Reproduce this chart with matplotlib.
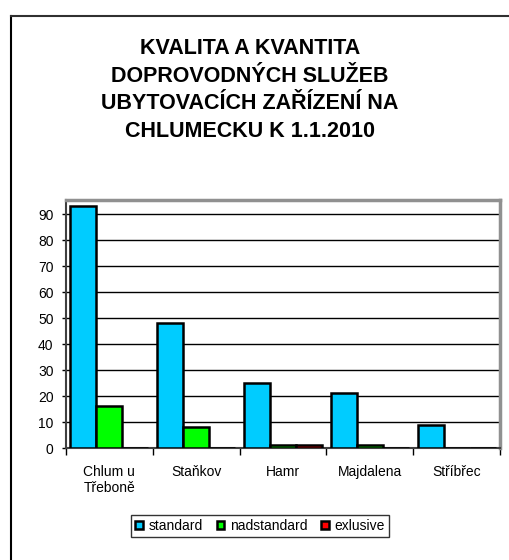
import numpy as np
import matplotlib.pyplot as plt
from matplotlib.lines import Line2D

plt.rcParams['font.family'] = ['Liberation Sans', 'DejaVu Sans']

# data
CATEGORIES = ['Chlum u\nTřeboně', 'Staňkov', 'Hamr', 'Majdalena', 'Stříbřec']
STANDARD = [93, 48, 25, 21, 9]
NADSTANDARD = [16, 8, 1, 1, 0]
EXLUSIVE = [0, 0, 1, 0, 0]

SERIES = ['standard', 'nadstandard', 'exlusive']
COLORS = ['#00CCFF', '#00FF00', '#FF0000']

TITLE = 'KVALITA A KVANTITA\nDOPROVODNÝCH SLUŽEB\nUBYTOVACÍCH ZAŘÍZENÍ NA\nCHLUMECKU K 1.1.2010'

FONT_SIZE = 10

fig = plt.figure(figsize=(5.1, 5.6), dpi=100)
ax = fig.add_axes([66 / 510, 1 - 448 / 560, 434 / 510, 248 / 560])

x = np.arange(len(CATEGORIES))
bar_width = 0.3
values = [STANDARD, NADSTANDARD, EXLUSIVE]

for i, (vals, col, lab) in enumerate(zip(values, COLORS, SERIES)):
    ax.bar(x + (i - 1) * bar_width, vals, width=bar_width, color=col,
           edgecolor='black', linewidth=1.8, label=lab, zorder=3)

ax.set_xlim(-0.5, len(CATEGORIES) - 0.5)
ax.set_ylim(0, 95.4)
ax.set_yticks(np.arange(0, 100, 10))
ax.yaxis.grid(True, color='black', linewidth=1.0, zorder=0)

# category boundaries get the tick marks, labels sit in between
ax.set_xticks(np.arange(-0.5, len(CATEGORIES), 1.0))
ax.set_xticklabels([])
ax.set_xticks(x, minor=True)
ax.set_xticklabels(CATEGORIES, minor=True, fontsize=FONT_SIZE, linespacing=1.2)
ax.tick_params(axis='x', which='major', length=5, width=1, color='black', direction='out')
ax.tick_params(axis='x', which='minor', length=0, pad=12)
ax.tick_params(axis='y', length=3, width=1, labelsize=FONT_SIZE, pad=6)

for s in ['top', 'right']:
    ax.spines[s].set_color('#909090')
    ax.spines[s].set_linewidth(2.5)
for s in ['left', 'bottom']:
    ax.spines[s].set_color('#404040')
    ax.spines[s].set_linewidth(1.5)

fig.text(0.49, 1 - 90 / 560, TITLE, ha='center', va='center',
         fontsize=15.5, fontweight='bold', linespacing=1.4)

ax.legend(loc='center', bbox_to_anchor=(260 / 510, 1 - 526 / 560),
          bbox_transform=fig.transFigure, ncol=3, fontsize=FONT_SIZE,
          frameon=True, fancybox=False, edgecolor='black',
          handlelength=0.55, handleheight=0.55, handletextpad=0.4,
          columnspacing=1.0, borderpad=0.3, borderaxespad=0)

# outer chart border (only top and left fall inside the image)
fig.add_artist(Line2D([11 / 510, 11 / 510], [-0.1, 1 - 16 / 560],
                      transform=fig.transFigure, color='black', linewidth=1.5))
fig.add_artist(Line2D([11 / 510, 1.1], [1 - 16 / 560, 1 - 16 / 560],
                      transform=fig.transFigure, color='#303030', linewidth=1.5))

fig.savefig('out.png', dpi=100)
